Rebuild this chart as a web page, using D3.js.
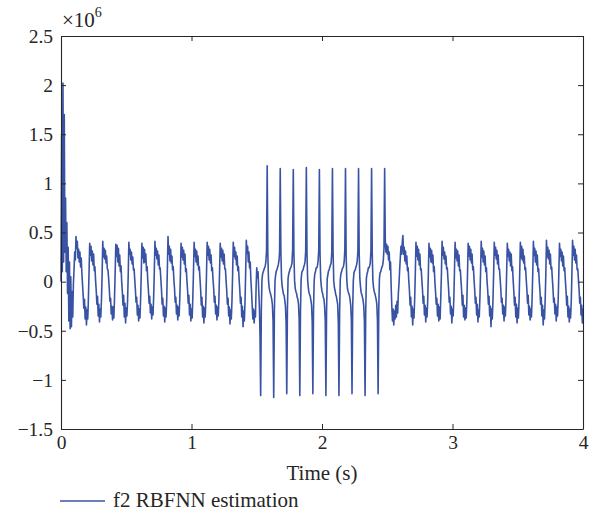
<!DOCTYPE html>
<html>
<head>
<meta charset="utf-8">
<script src="https://cdn.jsdelivr.net/npm/d3@7"></script>
<style>
  body { margin: 0; background: #fff; }
  text { font-family: 'Liberation Serif', 'DejaVu Serif', serif; }
</style>
</head>
<body>
<div id="chart"></div>
<script>
// samples every 0.005 s, values in units of 1e4 (so 40 -> 0.4 x 10^6)
let sampleStep = 0.005
let valueUnit = 1e4

// 0.000 - 0.115 s : start-up transient
let transientVals = [0, 150, 10, 202, 20, 170, 30, 85, 10, 60, -12, 35, -40, 20,
  -48, 5, -46, -10, -36, -2, 12, 30, 22, 46]

// 0.12 - 1.415 s : one row per 0.1 s cycle (starts at the peak)
let cyclesBefore = [
  [34, 41, 24, 33, 20, 30, 15, 24, 9, -3, -14, -27, -18, -38, -26, -44, -29, -38, -17, 10],
  [39, 27, 36, 21, 31, 17, 28, 11, 15, 1, -9, -23, -15, -35, -23, -41, -28, -36, -19, 7],
  [41, 25, 34, 23, 32, 19, 26, 13, 12, 3, -7, -20, -17, -33, -25, -39, -26, -37, -17, 9],
  [38, 26, 37, 20, 34, 16, 27, 10, 16, 0, -10, -24, -14, -36, -22, -42, -27, -35, -20, 6],
  [40, 28, 33, 22, 30, 18, 25, 12, 13, 2, -8, -21, -16, -34, -24, -40, -28, -37, -18, 8],
  [39, 24, 35, 19, 33, 20, 28, 11, 15, 1, -9, -22, -15, -32, -23, -38, -26, -34, -16, 10],
  [41, 27, 34, 23, 31, 17, 27, 13, 14, 3, -8, -23, -17, -35, -25, -41, -27, -36, -19, 12],
  [46, 28, 36, 21, 33, 19, 26, 12, 15, 2, -7, -21, -16, -33, -24, -39, -26, -35, -18, 7],
  [39, 25, 35, 22, 32, 18, 28, 10, 13, 1, -9, -22, -14, -34, -23, -40, -28, -37, -17, 9],
  [40, 26, 33, 20, 31, 17, 26, 12, 15, 3, -8, -24, -16, -36, -25, -42, -27, -36, -19, 8],
  [40, 27, 36, 22, 33, 19, 27, 11, 14, 2, -7, -21, -15, -33, -24, -39, -26, -35, -18, 10],
  [39, 25, 34, 21, 32, 18, 28, 13, 13, 1, -9, -23, -17, -35, -26, -43, -29, -38, -20, 7],
  [40, 26, 35, 23, 30, 17, 26, 11, 15, 2, -8, -22, -16, -36, -25, -46, -30, -40, -21, 9]
]

// 1.42 - 1.495 s
let beforeEnd = [42, 29, 36, 20, 30, 14, 20, 2, -10, -24, -38, -28, -42, -30, -36, -6]

// 1.50 - 1.525 s
let switchStart = [14, 4, 10, -8, -24, -55]

// 1.53 - 2.425 s : one row per cycle (down spike, then up spike 0.05 s later)
let switchCycles = [
  [-116, -30, 2, 8, 10, 12, 14, 16, 20, 32, 118, 28, 2, -6, -10, -12, -15, -18, -24, -40],
  [-118, -32, 1, 7, 11, 12, 15, 17, 21, 30, 115, 30, 3, -5, -9, -13, -14, -19, -25, -42],
  [-114, -28, 3, 8, 10, 13, 14, 16, 19, 33, 114, 27, 1, -7, -10, -12, -16, -18, -23, -39],
  [-116, -31, 2, 9, 11, 12, 15, 17, 20, 31, 116, 29, 2, -6, -11, -13, -15, -19, -24, -41],
  [-114, -29, 1, 8, 10, 14, 14, 16, 21, 32, 114, 28, 3, -5, -10, -12, -16, -18, -25, -40],
  [-116, -30, 3, 7, 11, 12, 15, 17, 19, 30, 115, 30, 1, -6, -9, -13, -15, -19, -23, -42],
  [-116, -32, 2, 8, 10, 13, 14, 16, 20, 33, 115, 27, 2, -7, -10, -12, -14, -18, -24, -39],
  [-114, -28, 1, 9, 11, 12, 15, 17, 21, 31, 115, 29, 3, -5, -11, -13, -16, -19, -25, -41],
  [-116, -31, 3, 8, 10, 14, 14, 16, 19, 32, 115, 28, 1, -6, -10, -12, -15, -18, -23, -40]
]

// 2.43 - 2.495 s
let switchEnd = [-114, -28, 3, 9, 10, 13, 15, 17, 22, 34, 115, 42, 30, 38]

// 2.50 - 2.615 s
let recoveryVals = [28, 36, 22, 30, 12, 20, -5, -25, -40, -28, -44, -30, -38, -24,
  -36, -20, -32, -12, -2, 12, 24, 36, 28, 40]

// 2.62 - 3.915 s
let cyclesAfter = [
  [47, 28, 35, 21, 31, 18, 26, 11, 14, 1, -9, -24, -16, -36, -25, -44, -28, -37, -18, 8],
  [40, 26, 36, 22, 33, 17, 28, 12, 13, 2, -8, -22, -15, -34, -24, -41, -27, -36, -19, 9],
  [39, 25, 34, 20, 32, 19, 27, 10, 15, 0, -10, -23, -17, -35, -23, -40, -26, -38, -17, 7],
  [41, 27, 35, 23, 30, 18, 26, 13, 14, 3, -7, -21, -16, -33, -25, -42, -28, -35, -18, 10],
  [40, 24, 33, 21, 31, 16, 27, 11, 12, 1, -9, -24, -14, -36, -24, -39, -27, -37, -20, 8],
  [39, 26, 36, 22, 33, 19, 28, 12, 15, 2, -8, -22, -16, -34, -23, -41, -29, -36, -17, 9],
  [41, 25, 34, 20, 31, 17, 26, 10, 14, 0, -9, -23, -15, -35, -25, -46, -28, -38, -19, 7],
  [40, 27, 35, 23, 32, 18, 27, 13, 13, 3, -7, -21, -17, -33, -24, -40, -26, -35, -18, 10],
  [39, 26, 33, 21, 30, 16, 28, 11, 15, 1, -10, -24, -16, -36, -23, -42, -27, -37, -20, 8],
  [40, 24, 36, 22, 33, 19, 26, 12, 14, 2, -8, -22, -14, -34, -25, -39, -28, -36, -17, 9],
  [41, 27, 34, 20, 31, 17, 27, 10, 13, 0, -9, -23, -16, -35, -24, -44, -29, -38, -19, 7],
  [42, 25, 35, 23, 32, 18, 28, 13, 15, 3, -7, -21, -17, -33, -23, -40, -26, -35, -18, 10],
  [39, 26, 33, 21, 30, 16, 26, 11, 14, 1, -9, -24, -15, -36, -25, -41, -28, -37, -20, 8]
]

// 3.92 - 4.00 s
let tailVals = [42, 27, 36, 22, 33, 19, 27, 12, 13, 2, -8, -22, -16, -34, -24, -42, -27]

let xTicks = [0, 1, 2, 3, 4]
let yTicks = [-1.5e6, -1e6, -0.5e6, 0, 0.5e6, 1e6, 1.5e6, 2e6, 2.5e6]
let yTickLabels = ['\u22121.5', '\u22121', '\u22120.5', '0', '0.5', '1', '1.5', '2', '2.5']
let seriesName = 'f2 RBFNN estimation'
let lineColor = '#3953a4'

let margin = { top: 36, left: 61, right: 6, bottom: 87 }
let width = 589 - margin.left - margin.right
let height = 516 - margin.top - margin.bottom

let svg = d3
  .select('#chart')
  .append('svg')
  .attr('width', width + margin.left + margin.right)
  .attr('height', height + margin.top + margin.bottom)
  .append('g')
  .attr('transform', 'translate(' + margin.left + ',' + margin.top + ')')

let allVals = [].concat(
  transientVals,
  d3.merge(cyclesBefore),
  beforeEnd,
  switchStart,
  d3.merge(switchCycles),
  switchEnd,
  recoveryVals,
  d3.merge(cyclesAfter),
  tailVals
)
let datapoints = allVals.map(function(v, i) {
  return { time: i * sampleStep, value: v * valueUnit }
})

let xPositionScale = d3.scaleLinear().domain([0, 4]).range([0, width])
let yPositionScale = d3.scaleLinear().domain([-1.5e6, 2.5e6]).range([height, 0])

let line = d3
  .line()
  .x(function(d) {
    return xPositionScale(d.time)
  })
  .y(function(d) {
    return yPositionScale(d.value)
  })

svg
  .append('path')
  .datum(datapoints)
  .attr('d', line)
  .attr('fill', 'none')
  .attr('stroke', lineColor)
  .attr('stroke-width', 1.6)
  .attr('stroke-linejoin', 'round')

// axes (MATLAB style box, ticks pointing inward)
let xAxis = d3
  .axisBottom(xPositionScale)
  .tickValues(xTicks)
  .tickSizeInner(-5)
  .tickSizeOuter(0)
  .tickPadding(6)
  .tickFormat(d3.format('d'))
svg
  .append('g')
  .attr('class', 'axis x-axis')
  .attr('transform', 'translate(0,' + height + ')')
  .call(xAxis)

let yAxis = d3
  .axisLeft(yPositionScale)
  .tickValues(yTicks)
  .tickSizeInner(-5)
  .tickSizeOuter(0)
  .tickPadding(8)
  .tickFormat(function(d, i) {
    return yTickLabels[i]
  })
svg
  .append('g')
  .attr('class', 'axis y-axis')
  .call(yAxis)

svg
  .append('g')
  .attr('class', 'axis')
  .call(
    d3.axisTop(xPositionScale).tickValues(xTicks).tickSizeInner(-5).tickSizeOuter(0).tickFormat('')
  )

svg
  .append('g')
  .attr('class', 'axis')
  .attr('transform', 'translate(' + width + ',0)')
  .call(
    d3.axisRight(yPositionScale).tickValues(yTicks).tickSizeInner(-5).tickSizeOuter(0).tickFormat('')
  )

svg
  .selectAll('.axis')
  .attr('color', '#262626')
  .attr('font-size', 19.5)
svg.selectAll('.axis path').attr('stroke-width', 1.1)

// exponent label
let expLabel = svg
  .append('text')
  .attr('x', 1)
  .attr('y', -9)
  .attr('font-size', 21)
  .attr('fill', '#262626')
expLabel.append('tspan').text('\u00d710')
expLabel
  .append('tspan')
  .attr('dy', -10)
  .attr('font-size', 14)
  .text('6')

svg
  .append('text')
  .attr('x', width / 2)
  .attr('y', height + 51)
  .attr('text-anchor', 'middle')
  .attr('font-size', 21)
  .attr('fill', '#262626')
  .text('Time (s)')

// legend
svg
  .append('line')
  .attr('x1', -1)
  .attr('x2', 44)
  .attr('y1', height + 72)
  .attr('y2', height + 72)
  .attr('stroke', lineColor)
  .attr('stroke-width', 1.3)

svg
  .append('text')
  .attr('x', 52)
  .attr('y', height + 78)
  .attr('font-size', 21)
  .attr('fill', '#262626')
  .text(seriesName)
</script>
</body>
</html>
